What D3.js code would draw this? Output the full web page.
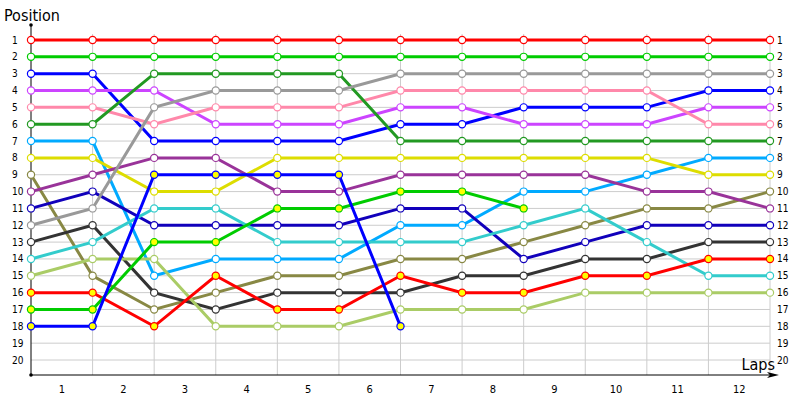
<!DOCTYPE html>
<html>
<head>
<meta charset="utf-8">
<script src="https://cdn.jsdelivr.net/npm/d3@7"></script>
<style>
  body { margin: 0; background: #fff; }
  svg text { font-family: Tahoma, "DejaVu Sans Condensed", "DejaVu Sans", sans-serif; fill: #000; }
</style>
</head>
<body>
<svg width="800" height="400"></svg>
<script>
// laps 0..12 (0 = grid), position ticks 1..20
const laps = d3.range(0, 13)
const lapLabels = d3.range(1, 13)
const posTicks = d3.range(1, 21)

// one row per car, position at each lap (null = retired)
const positions = [
  [1, 1, 1, 1, 1, 1, 1, 1, 1, 1, 1, 1, 1],
  [2, 2, 2, 2, 2, 2, 2, 2, 2, 2, 2, 2, 2],
  [3, 3, 7, 7, 7, 7, 6, 6, 5, 5, 5, 4, 4],
  [4, 4, 4, 6, 6, 6, 5, 5, 6, 6, 6, 5, 5],
  [5, 5, 6, 5, 5, 5, 4, 4, 4, 4, 4, 6, 6],
  [6, 6, 3, 3, 3, 3, 7, 7, 7, 7, 7, 7, 7],
  [7, 7, 15, 14, 14, 14, 12, 12, 10, 10, 9, 8, 8],
  [8, 8, 10, 10, 8, 8, 8, 8, 8, 8, 8, 9, 9],
  [9, 15, 17, 16, 15, 15, 14, 14, 13, 12, 11, 11, 10],
  [10, 9, 8, 8, 10, 10, 9, 9, 9, 9, 10, 10, 11],
  [11, 10, 12, 12, 12, 12, 11, 11, 14, 13, 12, 12, 12],
  [12, 11, 5, 4, 4, 4, 3, 3, 3, 3, 3, 3, 3],
  [13, 12, 16, 17, 16, 16, 16, 15, 15, 14, 14, 13, 13],
  [14, 13, 11, 11, 13, 13, 13, 13, 12, 11, 13, 15, 15],
  [15, 14, 14, 18, 18, 18, 17, 17, 17, 16, 16, 16, 16],
  [16, 16, 18, 15, 17, 17, 15, 16, 16, 15, 15, 14, 14],
  [17, 17, 13, 13, 11, 11, 10, 10, 11, null, null, null, null],
  [18, 18, 9, 9, 9, 9, 18, null, null, null, null, null, null]
]
const lineColors = ['#ff0000', '#00cc00', '#0000ff', '#cc44ff', '#ff88aa', '#229922',
  '#00aaff', '#dddd00', '#888844', '#993399', '#1100bb', '#999999',
  '#333333', '#33cccc', '#aacc66', '#ff0000', '#00cc00', '#0000ff']
const markerFills = ['#fff', '#fff', '#fff', '#fff', '#fff', '#fff', '#fff', '#fff', '#fff',
  '#fff', '#fff', '#fff', '#fff', '#fff', '#fff', '#ffff00', '#ffff00', '#ffff00']

const svg = d3.select('svg')

// plot frame
const plot = {left: 31, right: 770, top: 40, bottom: 360, axisY: 375}

const xScale = d3.scaleLinear().domain([0, 12]).range([plot.left, plot.right])
const yScale = d3.scaleLinear().domain([1, 20]).range([plot.top, plot.bottom])

// grid
svg.append('g').selectAll('line').data(posTicks).enter().append('line')
  .attr('x1', plot.left).attr('x2', plot.right)
  .attr('y1', d => yScale(d)).attr('y2', d => yScale(d))
  .attr('stroke', '#cccccc')
svg.append('g').selectAll('line').data(laps.slice(1)).enter().append('line')
  .attr('x1', d => xScale(d)).attr('x2', d => xScale(d))
  .attr('y1', plot.top - 6).attr('y2', plot.axisY)
  .attr('stroke', '#cccccc')

// axes
svg.append('line').attr('x1', plot.left).attr('x2', plot.left).attr('y1', 25).attr('y2', plot.axisY)
  .attr('stroke', '#000')
svg.append('circle').attr('cx', plot.left).attr('cy', 25).attr('r', 1.8).attr('fill', '#000')
svg.append('circle').attr('cx', plot.left).attr('cy', plot.axisY).attr('r', 1.8).attr('fill', '#000')
svg.append('line').attr('x1', plot.left).attr('x2', 772).attr('y1', plot.axisY).attr('y2', plot.axisY)
  .attr('stroke', '#000')
svg.append('path')
  .attr('d', `M779,${plot.axisY} L767,${plot.axisY - 3} L770,${plot.axisY} L767,${plot.axisY + 3} Z`)
  .attr('fill', '#000')

// tick labels
svg.append('g').selectAll('text').data(posTicks).enter().append('text')
  .attr('x', 12).attr('y', d => yScale(d)).attr('dy', '0.35em')
  .attr('font-size', 10).text(d => d)
svg.append('g').selectAll('text').data(posTicks).enter().append('text')
  .attr('x', 777).attr('y', d => yScale(d)).attr('dy', '0.35em')
  .attr('font-size', 10).text(d => d)
svg.append('g').selectAll('text').data(lapLabels).enter().append('text')
  .attr('x', d => xScale(d - 0.5)).attr('y', 393)
  .attr('text-anchor', 'middle').attr('font-size', 11).text(d => d)

svg.append('text').attr('x', 4).attr('y', 21).attr('font-size', 16).text('Position')
svg.append('text').attr('x', 775).attr('y', 370).attr('text-anchor', 'end')
  .attr('font-size', 16).text('Laps')

// lines
const line = d3.line()
  .defined(d => d != null)
  .x((d, i) => xScale(laps[i]))
  .y(d => yScale(d))

svg.append('g').selectAll('path').data(positions).enter().append('path')
  .attr('d', line)
  .attr('fill', 'none')
  .attr('stroke', (d, i) => lineColors[i])
  .attr('stroke-width', 3)

// markers
positions.forEach((row, i) => {
  svg.append('g').selectAll('circle')
    .data(row.map((p, lap) => ({ p, lap })).filter(d => d.p != null))
    .enter().append('circle')
      .attr('cx', d => xScale(d.lap))
      .attr('cy', d => yScale(d.p))
      .attr('r', 3.6)
      .attr('fill', markerFills[i])
      .attr('stroke', lineColors[i])
      .attr('stroke-width', 1.2)
})
</script>
</body>
</html>
